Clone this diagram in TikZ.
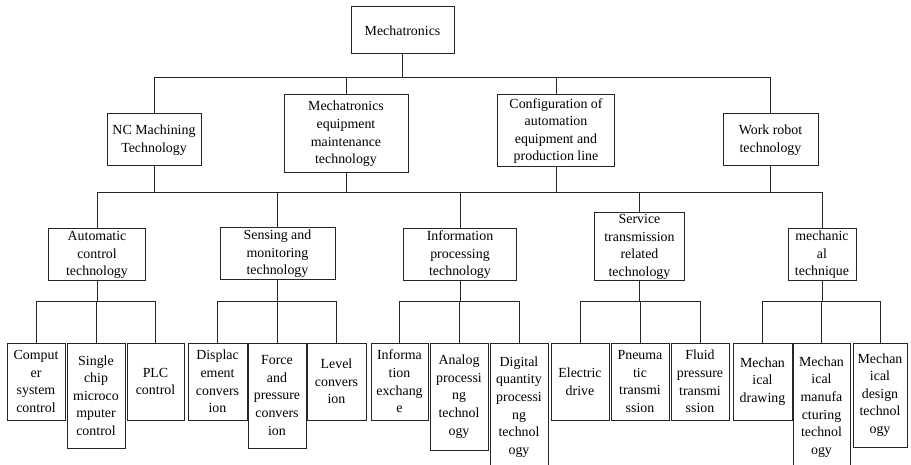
\documentclass[tikz,border=0pt]{standalone}
\usepackage{fontspec}
\setmainfont{Liberation Serif}
\begin{document}
\begin{tikzpicture}[x=1pt,y=-1pt,
  box/.style={draw=black!85, line width=1pt, inner sep=0pt, align=center,
    font=\fontsize{13.9}{17.6}\selectfont},
  link/.style={draw=black!85, line width=1pt},
  bx/.style n args={2}{box, minimum width=#1, minimum height=#2}]
\useasboundingbox (0,0) rectangle (911,465);
\clip (0,0) rectangle (911,465);

% bus levels
\coordinate (busA) at (0,78);
\coordinate (busB) at (0,193);
\coordinate (busC) at (0,302);

% root
\node[bx={103pt}{47pt}] (root) at (402.5,30.5) {Mechatronics};

% first level
\node[bx={94pt}{52pt}]  (nc)    at (154,140)  {NC Machining\\Technology};
\node[bx={124pt}{78pt}] (me)    at (346,134)  {Mechatronics\\equipment\\maintenance\\technology};
\node[bx={117pt}{72pt}] (cfg)   at (556,131)  {Configuration of\\automation\\equipment and\\production line};
\node[bx={95pt}{52pt}]  (robot) at (770.5,140) {Work robot\\technology};

% second level
\node[bx={97pt}{52pt}]  (auto)  at (97,255)   {Automatic\\control\\technology};
\node[bx={115pt}{52pt}] (sense) at (277.5,254) {Sensing and\\monitoring\\technology};
\node[bx={113pt}{52pt}] (info)  at (460,255)  {Information\\processing\\technology};
\node[bx={90pt}{68pt}]  (serv)  at (639.5,247) {Service\\transmission\\related\\technology};
\node[bx={68pt}{52pt}]  (mech)  at (822,255)  {mechanic\\al\\technique};

% third level
\node[bx={58pt}{77pt}]  (c1) at (36,381.5)   {Comput\\er\\system\\control};
\node[bx={58pt}{105pt}] (c2) at (96,395.5)   {Single\\chip\\microco\\mputer\\control};
\node[bx={57pt}{77pt}]  (c3) at (155.5,381.5) {PLC\\control};

\node[bx={59pt}{77pt}]  (s1) at (217.5,381.5) {Displac\\ement\\convers\\ion};
\node[bx={58pt}{105pt}] (s2) at (277,395.5)  {Force\\and\\pressure\\convers\\ion};
\node[bx={59pt}{77pt}]  (s3) at (336.5,381.5) {Level\\convers\\ion};

\node[bx={57pt}{77pt}]  (i1) at (399.5,381.5) {Informa\\tion\\exchang\\e};
\node[bx={58pt}{107pt}] (i2) at (459,396.5)  {Analog\\processi\\ng\\technol\\ogy};
\node[bx={58pt}{128pt}] (i3) at (519,407)    {Digital\\quantity\\processi\\ng\\technol\\ogy};

\node[bx={58pt}{77pt}]  (v1) at (580,381.5)  {Electric\\drive};
\node[bx={58pt}{77pt}]  (v2) at (640,381.5)  {Pneuma\\tic\\transmi\\ssion};
\node[bx={58pt}{77pt}]  (v3) at (700,381.5)  {Fluid\\pressure\\transmi\\ssion};

\node[bx={59pt}{77pt}]  (m1) at (762.5,381.5) {Mechan\\ical\\drawing};
\node[bx={57pt}{128pt}] (m2) at (821.5,407)  {Mechan\\ical\\manufa\\cturing\\technol\\ogy};
\node[bx={54pt}{104pt}] (m3) at (880,395)    {Mechan\\ical\\design\\technol\\ogy};

% root to first level
\foreach \c in {nc,me,cfg,robot}
  \draw[link] (root.south) -- (root.south |- busA) -| (\c.north);

% first level to second level
\foreach \c in {auto,sense,info,serv,mech}
  \draw[link] (me.south) -- (me.south |- busB) -| (\c.north);
\foreach \p in {nc,cfg,robot}
  \draw[link] (\p.south) -- (\p.south |- busB);

% second level to third level
\foreach \p/\a/\b/\d in {auto/c1/c2/c3, sense/s1/s2/s3, info/i1/i2/i3, serv/v1/v2/v3, mech/m1/m2/m3}
  \foreach \c in {\a,\b,\d}
    \draw[link] (\p.south) -- (\p.south |- busC) -| (\c.north);
\end{tikzpicture}
\end{document}
